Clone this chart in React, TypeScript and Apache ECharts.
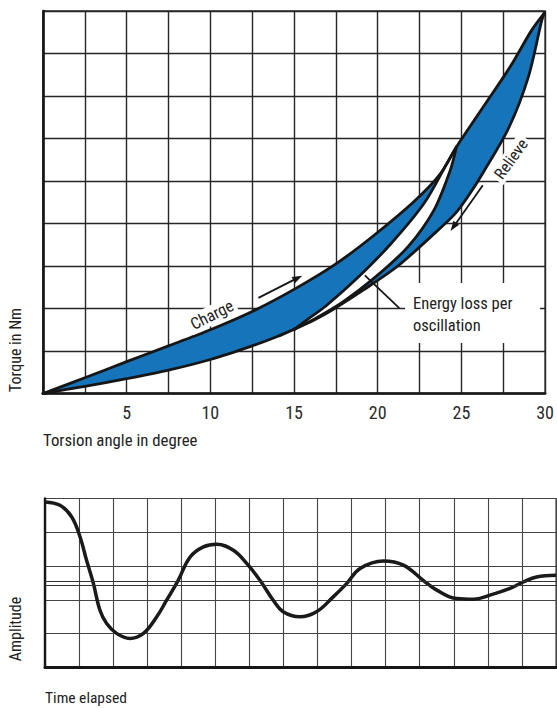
import React, { useEffect, useRef } from 'react';
import * as echarts from 'echarts';

const FONT = "'Liberation Sans Narrow', 'Roboto Condensed', 'DejaVu Sans Condensed', Roboto, sans-serif";
const BLUE = '#1574ba';
const INK = '#161616';

// ---- Torque / torsion angle chart ----
const X_TICK_LABELS = [5, 10, 15, 20, 25, 30];

// outer "Charge" curve: origin -> top right
const chargeX = [0, 2.5, 5, 7.5, 10, 12.5, 15, 17.5, 19.8, 22.2, 23.7, 24.7, 26.3, 27.9, 29.2, 29.95];
const chargeY = [0, 0.37, 0.75, 1.12, 1.5, 1.93, 2.45, 3.05, 3.73, 4.53, 5.15, 5.8, 6.74, 7.68, 8.55, 8.95];

// outer "Relieve" curve: top right -> kink at 15
const relieveX = [29.95, 29.8, 29.0, 27.85, 26.3, 25.4, 24.6, 23.15, 21.2, 19.2, 17.3, 16.2, 15.05];
const relieveY = [8.95, 8.78, 7.45, 6.27, 5.2, 4.64, 4.22, 3.68, 3.0, 2.45, 1.97, 1.73, 1.52];

// lower curve of the first loop: kink -> origin
const lowerX = [15.05, 14, 12.5, 10, 7.5, 5, 2.5, 0];
const lowerY = [1.52, 1.34, 1.12, 0.8, 0.55, 0.35, 0.17, 0];

// white gap between the two loops ("energy loss")
const gapUpperX = [15.05, 16.0, 16.9, 18.84, 20.8, 22.76, 24.13, 24.7];
const gapUpperY = [1.52, 1.8, 2.06, 2.74, 3.53, 4.47, 5.41, 5.8];
const gapLowerX = [15.05, 16.2, 17.9, 19.8, 21.8, 23.35, 24.33, 24.7];
const gapLowerY = [1.52, 1.75, 2.15, 2.72, 3.45, 4.31, 5.25, 5.8];

// arrows and leader line [x1, y1, x2, y2]
const chargeArrow = [12.87, 2.25, 15.22, 2.72];
const relieveArrow = [26.28, 4.9, 24.52, 3.92];
const energyLeader = [19.23, 2.78, 21.29, 2.01];

// ---- Amplitude / time chart ----
const timeX = [0, 0.44, 0.78, 1.03, 1.22, 1.42, 1.61, 1.81, 2.1, 2.49, 2.89, 3.28, 3.57, 3.91, 4.26, 4.65, 5.04, 5.53, 5.92, 6.31, 6.7, 6.99, 7.48, 7.97, 8.46, 8.86, 9.25, 9.93, 10.52, 11.1, 11.5, 12.08, 12.58, 13.06, 13.65, 14.04, 14.43, 15];
const ampY = [4.9, 4.8, 4.46, 3.86, 3.17, 2.49, 1.7, 1.3, 1.01, 0.86, 1.01, 1.5, 1.99, 2.58, 3.27, 3.57, 3.65, 3.47, 3.08, 2.58, 1.99, 1.65, 1.5, 1.65, 2.09, 2.49, 2.93, 3.15, 3.03, 2.58, 2.29, 2.04, 2.02, 2.14, 2.34, 2.53, 2.68, 2.73];
const REF_LINES = [2.43, 2.555];

const zip = (xs: number[], ys: number[]) => xs.map((x, i) => [x, ys[i]]);

export default function App() {
  const ref = useRef<HTMLDivElement>(null);
  useEffect(() => {
    const chart = echarts.init(ref.current as HTMLDivElement, null, { renderer: 'svg' });
    const charge = zip(chargeX, chargeY);
    const relieve = zip(relieveX, relieveY);
    const lower = zip(lowerX, lowerY);
    const gapUp = zip(gapUpperX, gapUpperY);
    const gapLo = zip(gapLowerX, gapLowerY);
    const outlines = [charge, relieve, lower, gapUp, gapLo];

    const seg = (a: number[], withArrow = true) => [
      { coord: [a[0], a[1]], symbol: 'none' },
      { coord: [a[2], a[3]], symbol: withArrow ? 'triangle' : 'none' },
    ];

    const txt = (text: string, x: number, y: number, fontSize: number, extra: any = {}, rot = 0) => ({
      type: 'text',
      x,
      y,
      rotation: rot,
      z: 100,
      silent: true,
      style: {
        text,
        fontSize,
        fontFamily: FONT,
        fill: '#222',
        align: extra.align || 'center',
        verticalAlign: 'middle',
        textAlign: extra.align || 'center',
        textVerticalAlign: 'middle',
        ...(extra.bg ? { backgroundColor: '#fff', padding: [1, 3] } : {}),
      },
    });

    const option: any = {
      animation: false,
      grid: [
        { left: 43, top: 11, width: 510, height: 382.5, show: true, borderColor: '#2a2a2a', borderWidth: 1.4, backgroundColor: 'transparent' },
        { left: 45, top: 498.5, width: 511, height: 169, show: true, borderColor: '#3a3a3a', borderWidth: 1.1, backgroundColor: 'transparent' },
      ],
      xAxis: [
        {
          type: 'value', gridIndex: 0, min: 0, max: 30, interval: 2.5,
          axisLine: { show: true, onZero: false, lineStyle: { color: INK, width: 2.6 } },
          axisTick: { show: false },
          axisLabel: {
            formatter: (v: number) => (X_TICK_LABELS.some((t) => Math.abs(t - v) < 1e-6) ? String(v) : ''),
            fontSize: 18, fontFamily: FONT, color: '#2a2a2a', margin: 10,
          },
          splitLine: { show: true, lineStyle: { color: '#262626', width: 1.4 } },
        },
        {
          type: 'value', gridIndex: 1, min: 0, max: 15, interval: 1,
          axisLine: { show: true, onZero: false, lineStyle: { color: INK, width: 3 } },
          axisTick: { show: false },
          axisLabel: { show: false },
          splitLine: { show: true, lineStyle: { color: '#444', width: 1.1 } },
        },
      ],
      yAxis: [
        {
          type: 'value', gridIndex: 0, min: 0, max: 9, interval: 1,
          axisLine: { show: true, onZero: false, lineStyle: { color: INK, width: 2.6 } },
          axisTick: { show: false },
          axisLabel: { show: false },
          splitLine: { show: true, lineStyle: { color: '#262626', width: 1.4 } },
        },
        {
          type: 'value', gridIndex: 1, min: 0, max: 5, interval: 1,
          axisLine: { show: true, onZero: false, lineStyle: { color: INK, width: 2.4 } },
          axisTick: { show: false },
          axisLabel: { show: false },
          splitLine: { show: true, lineStyle: { color: '#444', width: 1.1 } },
        },
      ],
      series: [
        {
          type: 'custom',
          xAxisIndex: 0,
          yAxisIndex: 0,
          silent: true,
          z: 3,
          data: [[0, 0]],
          renderItem: (_params: any, api: any) => {
            const c = (p: number[]) => api.coord(p);
            const outer = [...charge, ...relieve.slice(1), ...lower.slice(1)].map(c);
            const gap = [...gapUp, ...gapLo.slice().reverse().slice(1)].map(c);
            const line = (pts: number[][]) => ({
              type: 'polyline',
              shape: { points: pts.map(c), smooth: 0.3 },
              style: { stroke: INK, lineWidth: 2.8, fill: 'none', lineJoin: 'round', lineCap: 'round' },
            });
            return {
              type: 'group',
              children: [
                { type: 'polygon', shape: { points: outer }, style: { fill: BLUE } },
                { type: 'polygon', shape: { points: gap }, style: { fill: '#fff' } },
                ...outlines.map(line),
              ],
            };
          },
        },
        {
          type: 'line',
          xAxisIndex: 0,
          yAxisIndex: 0,
          data: [],
          silent: true,
          z: 4,
          markLine: {
            silent: true,
            animation: false,
            label: { show: false },
            lineStyle: { color: INK, width: 1.8, type: 'solid' },
            symbol: ['none', 'triangle'],
            symbolSize: [7, 10],
            data: [seg(chargeArrow), seg(relieveArrow), seg(energyLeader, false)],
          },
        },
        {
          type: 'line',
          xAxisIndex: 1,
          yAxisIndex: 1,
          data: zip(timeX, ampY),
          smooth: 0.4,
          showSymbol: false,
          silent: true,
          z: 4,
          lineStyle: { color: '#1a1a1a', width: 3.5 },
          markLine: {
            silent: true,
            animation: false,
            symbol: ['none', 'none'],
            label: { show: false },
            lineStyle: { color: '#333', width: 1.2, type: 'solid' },
            data: REF_LINES.map((v) => ({ yAxis: v })),
          },
        },
      ],
      graphic: [
        txt('Torque in Nm', 15, 350, 16, {}, Math.PI / 2),
        txt('Torsion angle in degree', 43, 440, 16.8, { align: 'left' }),
        txt('Amplitude', 15, 629, 16, {}, Math.PI / 2),
        txt('Time elapsed', 45, 698, 15.5, { align: 'left' }),
        txt('Charge', 212, 315, 16.5, { bg: true }, (26.6 * Math.PI) / 180),
        txt('Relieve', 511, 159, 16, { bg: true }, (54 * Math.PI) / 180),
        {
          type: 'rect',
          z: 99,
          silent: true,
          shape: { x: 405, y: 283, width: 135, height: 60 },
          style: { fill: '#fff' },
        },
        txt('Energy loss per', 413, 303, 16.5, { align: 'left' }),
        txt('oscillation', 413, 325, 16.5, { align: 'left' }),
      ],
    };
    chart.setOption(option);
    return () => chart.dispose();
  }, []);
  return (
    <div
      ref={ref}
      style={{ position: 'absolute', left: 0, top: 0, width: 557, height: 708, background: '#fff' }}
    />
  );
}
